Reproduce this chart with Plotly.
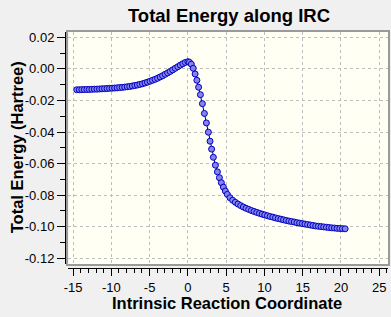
import plotly.graph_objects as go

# Reaction coordinate values
irc_x = [-14.52, -14.19, -13.86, -13.53, -13.2, -12.87, -12.54, -12.21, -11.88, -11.55,
         -11.22, -10.89, -10.56, -10.23, -9.9, -9.57, -9.24, -8.91, -8.58, -8.25,
         -7.92, -7.59, -7.26, -6.93, -6.6, -6.27, -5.94, -5.61, -5.28, -4.95,
         -4.62, -4.29, -3.96, -3.63, -3.3, -2.97, -2.64, -2.31, -1.98, -1.65,
         -1.32, -0.99, -0.66, -0.33, 0.0,
         0.2, 0.45, 0.7, 0.95, 1.18, 1.4, 1.64, 1.9, 2.16, 2.42,
         2.68, 2.9, 3.1, 3.33, 3.6, 3.86, 4.12, 4.38, 4.64, 4.9,
         5.16, 5.5, 5.85, 6.2, 6.55, 6.9, 7.25, 7.6, 7.95, 8.3,
         8.65, 9.0, 9.35, 9.7, 10.05, 10.4, 10.75, 11.1, 11.45, 11.8,
         12.15, 12.5, 12.85, 13.2, 13.55, 13.9, 14.25, 14.6, 14.95, 15.3,
         15.65, 16.0, 16.35, 16.7, 17.05, 17.4, 17.75, 18.1, 18.45, 18.8,
         19.15, 19.5, 19.85, 20.2, 20.55]

# Total energy (Hartree, relative)
energy = [-0.0132, -0.0132, -0.0131, -0.0131, -0.0130, -0.0130, -0.0129, -0.0128, -0.0128, -0.0127,
          -0.0126, -0.0125, -0.0124, -0.0123, -0.0122, -0.0121, -0.0120, -0.0118, -0.0117, -0.0115,
          -0.0113, -0.0111, -0.0108, -0.0105, -0.0102, -0.0098, -0.0094, -0.0089, -0.0084, -0.0078,
          -0.0072, -0.0066, -0.0059, -0.0051, -0.0043, -0.0034, -0.0025, -0.0016, -0.0006, 0.0004,
          0.0014, 0.0024, 0.0033, 0.0041, 0.0046,
          0.0042, 0.0030, 0.0004, -0.0032, -0.0072, -0.0116, -0.0163, -0.0220, -0.0282, -0.0342,
          -0.0401, -0.0458, -0.0508, -0.0560, -0.0610, -0.0652, -0.0689, -0.0721, -0.0749, -0.0774,
          -0.0795, -0.0816, -0.0832, -0.0845, -0.0856, -0.0866, -0.0875, -0.0883, -0.0890, -0.0897,
          -0.0903, -0.0909, -0.0915, -0.0920, -0.0925, -0.0930, -0.0935, -0.0939, -0.0944, -0.0948,
          -0.0952, -0.0956, -0.0960, -0.0964, -0.0967, -0.0970, -0.0974, -0.0977, -0.0980, -0.0983,
          -0.0986, -0.0989, -0.0992, -0.0995, -0.0997, -0.0999, -0.1001, -0.1003, -0.1005, -0.1007,
          -0.1008, -0.1010, -0.1011, -0.1012, -0.1013]

x_ticks = [-15, -10, -5, 0, 5, 10, 15, 20, 25]
y_ticks = [0.02, 0.00, -0.02, -0.04, -0.06, -0.08, -0.10, -0.12]
y_tick_text = ["0.02", "0.00", "-0.02", "-0.04", "-0.06", "-0.08", "-0.10", "-0.12"]

x_range = [-15.6, 26.15]
y_range = [-0.1236, 0.0234]

FONT = "Liberation Sans, Arial, sans-serif"

fig = go.Figure()
fig.add_trace(go.Scatter(
    x=irc_x, y=energy, mode="lines+markers",
    line=dict(color="#000040", width=1),
    marker=dict(size=6, color="#8484ec", line=dict(color="#0000c0", width=1)),
    showlegend=False, xaxis="x", yaxis="y"))

W, H = 391, 317
ml, mr, mt, mb = 65, 1, 32, 49
pw = W - ml - mr
ph = H - mt - mb
xd0 = (68.5 - ml) / pw
yd0 = (H - mb - 264) / ph

grid = dict(showgrid=True, gridcolor="#bdbdbd", griddash="3px,3px", gridwidth=1)

fig.update_layout(
    width=W, height=H,
    margin=dict(l=ml, r=mr, t=mt, b=mb, pad=0),
    paper_bgcolor="#f0f0f0",
    plot_bgcolor="#fffff4",
    font=dict(family=FONT, size=13, color="black"),
    title=dict(text="<b>Total Energy along IRC</b>", x=229 / W, xanchor="center",
               y=1 - 16 / H, yanchor="middle", yref="container",
               font=dict(family=FONT, size=18.5, color="black")),
    xaxis=dict(domain=[xd0, 1], range=x_range, tickvals=x_ticks, showticklabels=False,
               ticks="", showline=True, mirror=True, linecolor="#9a9a9a", linewidth=2,
               zeroline=False, anchor="y", **grid),
    yaxis=dict(domain=[yd0, 1], range=y_range, tickvals=y_ticks, showticklabels=False,
               ticks="", showline=True, mirror=True, linecolor="#9a9a9a", linewidth=2,
               zeroline=False, anchor="x", **grid),
    xaxis2=dict(overlaying="x", anchor="free", position=0, range=x_range,
                tickvals=x_ticks, ticktext=[str(v) for v in x_ticks],
                ticks="outside", ticklen=7, tickcolor="black", tickwidth=1,
                showline=True, linecolor="black", linewidth=1, showgrid=False,
                zeroline=False, tickfont=dict(family=FONT, size=13, color="black"),
                minor=dict(dtick=1, tick0=0, ticks="outside", ticklen=4, tickcolor="black",
                           showgrid=False)),
    yaxis3=dict(overlaying="y", anchor="free", position=0, range=y_range,
                tickvals=y_ticks, ticktext=y_tick_text,
                ticks="outside", ticklen=8, tickcolor="black", tickwidth=1,
                showline=True, linecolor="black", linewidth=1, showgrid=False,
                zeroline=False, tickfont=dict(family=FONT, size=13, color="black"),
                minor=dict(dtick=0.01, tick0=0, ticks="outside", ticklen=5, tickcolor="black",
                           showgrid=False)),
    annotations=[
        dict(text="<b>Total Energy (Hartree)</b>", textangle=-90, xref="paper", yref="paper",
             x=(17 - ml) / pw, y=(H - mb - 147) / ph, xanchor="center", yanchor="middle",
             showarrow=False, font=dict(family=FONT, size=16.5, color="black")),
        dict(text="<b>Intrinsic Reaction Coordinate</b>", xref="paper", yref="paper",
             x=(228 - ml) / pw, y=(H - mb - 303) / ph, xanchor="center", yanchor="middle",
             showarrow=False, font=dict(family=FONT, size=16.5, color="black")),
    ],
)

# invisible anchor trace so overlay axes render
fig.add_trace(go.Scatter(x=[irc_x[0]], y=[energy[0]], xaxis="x2", yaxis="y3",
                         mode="markers", marker=dict(opacity=0), showlegend=False,
                         hoverinfo="skip"))

fig.write_html("out.html")
